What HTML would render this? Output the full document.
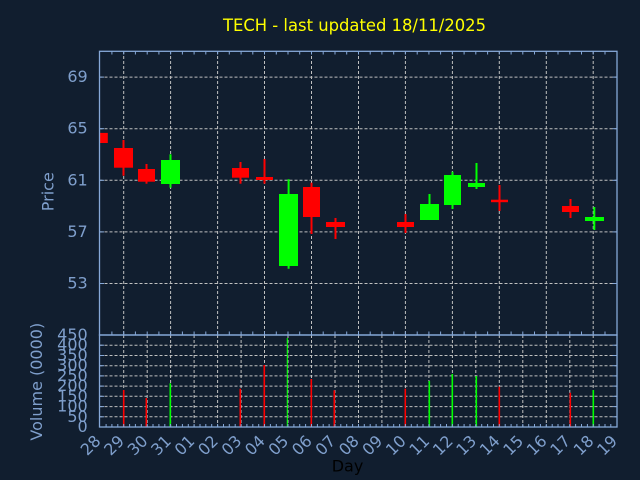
<!DOCTYPE html>
<html>
<head>
<meta charset="utf-8">
<style>
html,body{margin:0;padding:0;background:#111e2f;}
svg{display:block;}
text{font-family:"DejaVu Sans","Liberation Sans",sans-serif;}
</style>
</head>
<body>
<svg width="640" height="480" viewBox="0 0 640 480" xmlns="http://www.w3.org/2000/svg">
<rect x="0" y="0" width="640" height="480" fill="#111e2f"/>

<!-- Title -->
<text x="354.5" y="31" font-size="16.4" fill="#ffff00" text-anchor="middle">TECH - last updated 18/11/2025</text>

<!-- Price grid -->
<g stroke="#c0c0c0" stroke-width="1" stroke-dasharray="3 2" fill="none">
  <line x1="99.5" y1="77.1" x2="617" y2="77.1"/>
  <line x1="99.5" y1="128.7" x2="617" y2="128.7"/>
  <line x1="99.5" y1="180.3" x2="617" y2="180.3"/>
  <line x1="99.5" y1="231.9" x2="617" y2="231.9"/>
  <line x1="99.5" y1="283.5" x2="617" y2="283.5"/>
  <line x1="123.7" y1="51" x2="123.7" y2="335"/>
  <line x1="170.6" y1="51" x2="170.6" y2="335"/>
  <line x1="217.6" y1="51" x2="217.6" y2="335"/>
  <line x1="264.5" y1="51" x2="264.5" y2="335"/>
  <line x1="311.5" y1="51" x2="311.5" y2="335"/>
  <line x1="358.5" y1="51" x2="358.5" y2="335"/>
  <line x1="405.4" y1="51" x2="405.4" y2="335"/>
  <line x1="452.4" y1="51" x2="452.4" y2="335"/>
  <line x1="499.3" y1="51" x2="499.3" y2="335"/>
  <line x1="546.3" y1="51" x2="546.3" y2="335"/>
  <line x1="593.2" y1="51" x2="593.2" y2="335"/>
</g>

<!-- Volume grid -->
<g stroke="#c0c0c0" stroke-width="1" stroke-dasharray="3 2" fill="none">
  <line x1="99.5" y1="416.8" x2="617" y2="416.8"/>
  <line x1="99.5" y1="406.6" x2="617" y2="406.6"/>
  <line x1="99.5" y1="396.3" x2="617" y2="396.3"/>
  <line x1="99.5" y1="386.1" x2="617" y2="386.1"/>
  <line x1="99.5" y1="375.9" x2="617" y2="375.9"/>
  <line x1="99.5" y1="365.7" x2="617" y2="365.7"/>
  <line x1="99.5" y1="355.5" x2="617" y2="355.5"/>
  <line x1="99.5" y1="345.2" x2="617" y2="345.2"/>
  <line x1="123.7" y1="335" x2="123.7" y2="427"/>
  <line x1="147.2" y1="335" x2="147.2" y2="427"/>
  <line x1="170.6" y1="335" x2="170.6" y2="427"/>
  <line x1="194.1" y1="335" x2="194.1" y2="427"/>
  <line x1="217.6" y1="335" x2="217.6" y2="427"/>
  <line x1="241.1" y1="335" x2="241.1" y2="427"/>
  <line x1="264.5" y1="335" x2="264.5" y2="427"/>
  <line x1="288.0" y1="335" x2="288.0" y2="427"/>
  <line x1="311.5" y1="335" x2="311.5" y2="427"/>
  <line x1="335.0" y1="335" x2="335.0" y2="427"/>
  <line x1="358.5" y1="335" x2="358.5" y2="427"/>
  <line x1="381.9" y1="335" x2="381.9" y2="427"/>
  <line x1="405.4" y1="335" x2="405.4" y2="427"/>
  <line x1="428.9" y1="335" x2="428.9" y2="427"/>
  <line x1="452.4" y1="335" x2="452.4" y2="427"/>
  <line x1="475.8" y1="335" x2="475.8" y2="427"/>
  <line x1="499.3" y1="335" x2="499.3" y2="427"/>
  <line x1="522.8" y1="335" x2="522.8" y2="427"/>
  <line x1="546.3" y1="335" x2="546.3" y2="427"/>
  <line x1="569.8" y1="335" x2="569.8" y2="427"/>
  <line x1="593.2" y1="335" x2="593.2" y2="427"/>
</g>

<!-- Candles: wicks -->
<g stroke-width="2">
  <line x1="123.5" y1="140" x2="123.5" y2="175.7" stroke="#ff0000"/>
  <line x1="146.5" y1="164" x2="146.5" y2="183.7" stroke="#ff0000"/>
  <line x1="170.5" y1="154.3" x2="170.5" y2="187.7" stroke="#00ff00"/>
  <line x1="240.5" y1="162" x2="240.5" y2="183.7" stroke="#ff0000"/>
  <line x1="264.5" y1="159" x2="264.5" y2="183.7" stroke="#ff0000"/>
  <line x1="288.6" y1="179.3" x2="288.6" y2="268.7" stroke="#00ff00"/>
  <line x1="311.5" y1="182.7" x2="311.5" y2="234" stroke="#ff0000"/>
  <line x1="335.5" y1="218" x2="335.5" y2="239" stroke="#ff0000"/>
  <line x1="405.5" y1="214" x2="405.5" y2="233" stroke="#ff0000"/>
  <line x1="429.5" y1="194" x2="429.5" y2="220" stroke="#00ff00"/>
  <line x1="452.5" y1="171.7" x2="452.5" y2="209" stroke="#00ff00"/>
  <line x1="476.5" y1="163" x2="476.5" y2="189" stroke="#00ff00"/>
  <line x1="499.5" y1="185" x2="499.5" y2="211" stroke="#ff0000"/>
  <line x1="570.5" y1="199" x2="570.5" y2="218" stroke="#ff0000"/>
  <line x1="594.3" y1="207" x2="594.3" y2="230" stroke="#00ff00"/>
</g>
<!-- Candles: bodies -->
<g>
  <rect x="99.5" y="132.9" width="8.3" height="10.1" fill="#ff0000"/>
  <rect x="114" y="148" width="19" height="19.7" fill="#ff0000"/>
  <rect x="138" y="169" width="17" height="12.7" fill="#ff0000"/>
  <rect x="161" y="160" width="19" height="24" fill="#00ff00"/>
  <rect x="232" y="168" width="17" height="9.7" fill="#ff0000"/>
  <rect x="256" y="177" width="17" height="3" fill="#ff0000"/>
  <rect x="279" y="194" width="19" height="72" fill="#00ff00"/>
  <rect x="303" y="187" width="17" height="30" fill="#ff0000"/>
  <rect x="326" y="222" width="19" height="5" fill="#ff0000"/>
  <rect x="397" y="222" width="17" height="5" fill="#ff0000"/>
  <rect x="420" y="204" width="19" height="16" fill="#00ff00"/>
  <rect x="444" y="175" width="17" height="30" fill="#00ff00"/>
  <rect x="468" y="183" width="17" height="4" fill="#00ff00"/>
  <rect x="491" y="199.7" width="17" height="2.5" fill="#ff0000"/>
  <rect x="562" y="206" width="17" height="6" fill="#ff0000"/>
  <rect x="585" y="217" width="19" height="4" fill="#00ff00"/>
</g>

<!-- Volume bars -->
<g stroke-width="1.6">
  <line x1="123.7" y1="390" x2="123.7" y2="427" stroke="#ff0000"/>
  <line x1="146.3" y1="398" x2="146.3" y2="427" stroke="#ff0000"/>
  <line x1="170.3" y1="383.3" x2="170.3" y2="427" stroke="#00ff00"/>
  <line x1="240.3" y1="388.7" x2="240.3" y2="427" stroke="#ff0000"/>
  <line x1="264.3" y1="365" x2="264.3" y2="427" stroke="#ff0000"/>
  <line x1="287.3" y1="338" x2="287.3" y2="427" stroke="#00ff00" stroke-width="1.1"/>
  <line x1="311.3" y1="379" x2="311.3" y2="427" stroke="#ff0000"/>
  <line x1="334.3" y1="390.3" x2="334.3" y2="427" stroke="#ff0000"/>
  <line x1="405.3" y1="388.7" x2="405.3" y2="427" stroke="#ff0000"/>
  <line x1="429.3" y1="381" x2="429.3" y2="427" stroke="#00ff00"/>
  <line x1="452.3" y1="374" x2="452.3" y2="427" stroke="#00ff00"/>
  <line x1="476.3" y1="376" x2="476.3" y2="427" stroke="#00ff00"/>
  <line x1="499.3" y1="386.7" x2="499.3" y2="427" stroke="#ff0000"/>
  <line x1="570.3" y1="392.7" x2="570.3" y2="427" stroke="#ff0000"/>
  <line x1="593.3" y1="390" x2="593.3" y2="427" stroke="#00ff00"/>
</g>

<!-- Axes frames -->
<g stroke="#86a8d8" stroke-width="1.3" fill="none">
  <rect x="99.5" y="51.3" width="517.5" height="283.7"/>
  <rect x="99.5" y="335" width="517.5" height="92"/>
</g>

<!-- Ticks -->
<g stroke="#86a8d8" stroke-width="1">
  <line x1="99.5" y1="77.1" x2="104" y2="77.1"/><line x1="612.5" y1="77.1" x2="617" y2="77.1"/>
  <line x1="99.5" y1="128.7" x2="104" y2="128.7"/><line x1="612.5" y1="128.7" x2="617" y2="128.7"/>
  <line x1="99.5" y1="180.3" x2="104" y2="180.3"/><line x1="612.5" y1="180.3" x2="617" y2="180.3"/>
  <line x1="99.5" y1="231.9" x2="104" y2="231.9"/><line x1="612.5" y1="231.9" x2="617" y2="231.9"/>
  <line x1="99.5" y1="283.5" x2="104" y2="283.5"/><line x1="612.5" y1="283.5" x2="617" y2="283.5"/>
  <line x1="99.5" y1="416.8" x2="104" y2="416.8"/><line x1="612.5" y1="416.8" x2="617" y2="416.8"/>
  <line x1="99.5" y1="406.6" x2="104" y2="406.6"/><line x1="612.5" y1="406.6" x2="617" y2="406.6"/>
  <line x1="99.5" y1="396.3" x2="104" y2="396.3"/><line x1="612.5" y1="396.3" x2="617" y2="396.3"/>
  <line x1="99.5" y1="386.1" x2="104" y2="386.1"/><line x1="612.5" y1="386.1" x2="617" y2="386.1"/>
  <line x1="99.5" y1="375.9" x2="104" y2="375.9"/><line x1="612.5" y1="375.9" x2="617" y2="375.9"/>
  <line x1="99.5" y1="365.7" x2="104" y2="365.7"/><line x1="612.5" y1="365.7" x2="617" y2="365.7"/>
  <line x1="99.5" y1="355.5" x2="104" y2="355.5"/><line x1="612.5" y1="355.5" x2="617" y2="355.5"/>
  <line x1="99.5" y1="345.2" x2="104" y2="345.2"/><line x1="612.5" y1="345.2" x2="617" y2="345.2"/>
</g>
<g stroke="#86a8d8" stroke-width="1">
  <path d="M111.9 51v3.5M123.7 51v3.5M135.4 51v3.5M147.2 51v3.5M158.9 51v3.5M170.6 51v3.5M182.4 51v3.5M194.1 51v3.5M205.8 51v3.5M217.6 51v3.5M229.3 51v3.5M241.1 51v3.5M252.8 51v3.5M264.5 51v3.5M276.3 51v3.5M288 51v3.5M299.7 51v3.5M311.5 51v3.5M323.2 51v3.5M335 51v3.5M346.7 51v3.5M358.5 51v3.5M370.2 51v3.5M381.9 51v3.5M393.7 51v3.5M405.4 51v3.5M417.2 51v3.5M428.9 51v3.5M440.6 51v3.5M452.4 51v3.5M464.1 51v3.5M475.8 51v3.5M487.6 51v3.5M499.3 51v3.5M511.1 51v3.5M522.8 51v3.5M534.5 51v3.5M546.3 51v3.5M558 51v3.5M569.8 51v3.5M581.5 51v3.5M593.2 51v3.5M605 51v3.5"/>
  <path d="M111.9 335v-3.5M123.7 335v-3.5M135.4 335v-3.5M147.2 335v-3.5M158.9 335v-3.5M170.6 335v-3.5M182.4 335v-3.5M194.1 335v-3.5M205.8 335v-3.5M217.6 335v-3.5M229.3 335v-3.5M241.1 335v-3.5M252.8 335v-3.5M264.5 335v-3.5M276.3 335v-3.5M288 335v-3.5M299.7 335v-3.5M311.5 335v-3.5M323.2 335v-3.5M335 335v-3.5M346.7 335v-3.5M358.5 335v-3.5M370.2 335v-3.5M381.9 335v-3.5M393.7 335v-3.5M405.4 335v-3.5M417.2 335v-3.5M428.9 335v-3.5M440.6 335v-3.5M452.4 335v-3.5M464.1 335v-3.5M475.8 335v-3.5M487.6 335v-3.5M499.3 335v-3.5M511.1 335v-3.5M522.8 335v-3.5M534.5 335v-3.5M546.3 335v-3.5M558 335v-3.5M569.8 335v-3.5M581.5 335v-3.5M593.2 335v-3.5M605 335v-3.5"/>
  <path d="M106.1 427v-3M111.9 427v-3M117.8 427v-3M123.7 427v-3M129.6 427v-3M135.4 427v-3M141.3 427v-3M147.2 427v-3M153 427v-3M158.9 427v-3M164.8 427v-3M170.6 427v-3M176.5 427v-3M182.4 427v-3M188.3 427v-3M194.1 427v-3M200 427v-3M205.8 427v-3M211.7 427v-3M217.6 427v-3M223.5 427v-3M229.3 427v-3M235.2 427v-3M241.1 427v-3M246.9 427v-3M252.8 427v-3M258.7 427v-3M264.5 427v-3M270.4 427v-3M276.3 427v-3M282.1 427v-3M288 427v-3M293.9 427v-3M299.7 427v-3M305.6 427v-3M311.5 427v-3M317.4 427v-3M323.2 427v-3M329.1 427v-3M335 427v-3M340.8 427v-3M346.7 427v-3M352.6 427v-3M358.5 427v-3M364.3 427v-3M370.2 427v-3M376.1 427v-3M381.9 427v-3M387.8 427v-3M393.7 427v-3M399.6 427v-3M405.4 427v-3M411.3 427v-3M417.2 427v-3M423 427v-3M428.9 427v-3M434.8 427v-3M440.6 427v-3M446.5 427v-3M452.4 427v-3M458.2 427v-3M464.1 427v-3M470 427v-3M475.8 427v-3M481.7 427v-3M487.6 427v-3M493.5 427v-3M499.3 427v-3M505.2 427v-3M511.1 427v-3M516.9 427v-3M522.8 427v-3M528.7 427v-3M534.5 427v-3M540.4 427v-3M546.3 427v-3M552.2 427v-3M558 427v-3M563.9 427v-3M569.8 427v-3M575.6 427v-3M581.5 427v-3M587.4 427v-3M593.2 427v-3M599.1 427v-3M605 427v-3M610.8 427v-3"/>
</g>

<!-- Y labels price -->
<g font-size="16" fill="#7f9fcc" text-anchor="end">
  <text x="87.7" y="82.1">69</text>
  <text x="87.7" y="133.7">65</text>
  <text x="87.7" y="185.3">61</text>
  <text x="87.7" y="236.9">57</text>
  <text x="87.7" y="288.5">53</text>
</g>
<!-- Y labels volume -->
<g font-size="16" fill="#7f9fcc" text-anchor="end">
  <text x="87.7" y="432">0</text>
  <text x="87.7" y="421.8">50</text>
  <text x="87.7" y="411.6">100</text>
  <text x="87.7" y="401.3">150</text>
  <text x="87.7" y="391.1">200</text>
  <text x="87.7" y="380.9">250</text>
  <text x="87.7" y="370.7">300</text>
  <text x="87.7" y="360.5">350</text>
  <text x="87.7" y="350.2">400</text>
  <text x="87.7" y="340">450</text>
</g>

<!-- Axis titles -->
<text transform="translate(53.5,191.7) rotate(-90)" font-size="16" fill="#7f9fcc" text-anchor="middle">Price</text>
<text transform="translate(42,381.7) rotate(-90)" font-size="16" fill="#7f9fcc" text-anchor="middle">Volume (0000)</text>
<text x="347.5" y="471.5" font-size="16" fill="#000000" text-anchor="middle">Day</text>

<!-- X labels -->
<g font-size="16" fill="#7f9fcc" text-anchor="end">
  <text transform="translate(101.7,442) rotate(-45)">28</text>
  <text transform="translate(125.2,442) rotate(-45)">29</text>
  <text transform="translate(148.7,442) rotate(-45)">30</text>
  <text transform="translate(172.1,442) rotate(-45)">31</text>
  <text transform="translate(195.6,442) rotate(-45)">01</text>
  <text transform="translate(219.1,442) rotate(-45)">02</text>
  <text transform="translate(242.6,442) rotate(-45)">03</text>
  <text transform="translate(266.0,442) rotate(-45)">04</text>
  <text transform="translate(289.5,442) rotate(-45)">05</text>
  <text transform="translate(313.0,442) rotate(-45)">06</text>
  <text transform="translate(336.5,442) rotate(-45)">07</text>
  <text transform="translate(360.0,442) rotate(-45)">08</text>
  <text transform="translate(383.4,442) rotate(-45)">09</text>
  <text transform="translate(406.9,442) rotate(-45)">10</text>
  <text transform="translate(430.4,442) rotate(-45)">11</text>
  <text transform="translate(453.9,442) rotate(-45)">12</text>
  <text transform="translate(477.3,442) rotate(-45)">13</text>
  <text transform="translate(500.8,442) rotate(-45)">14</text>
  <text transform="translate(524.3,442) rotate(-45)">15</text>
  <text transform="translate(547.8,442) rotate(-45)">16</text>
  <text transform="translate(571.3,442) rotate(-45)">17</text>
  <text transform="translate(594.7,442) rotate(-45)">18</text>
  <text transform="translate(618.2,442) rotate(-45)">19</text>
</g>
</svg>
</body>
</html>
